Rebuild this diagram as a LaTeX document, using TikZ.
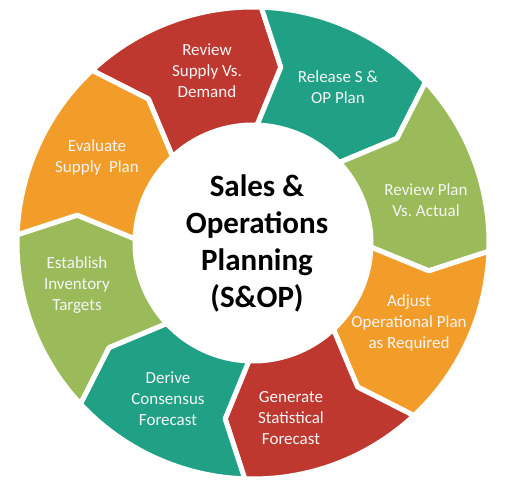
\documentclass[tikz,border=0pt]{standalone}
\usepackage{fontspec}
\setmainfont{Carlito}
\frenchspacing
\definecolor{sopred}{RGB}{190,56,48}
\definecolor{sopteal}{RGB}{32,161,133}
\definecolor{sopgreen}{RGB}{155,187,90}
\definecolor{soporange}{RGB}{242,157,42}

\begin{document}
\begin{tikzpicture}[
    x=1pt, y=1pt,
    segment/.style={fill=#1, draw=white, line width=5pt, line join=round},
    segshadow/.style={fill=black, opacity=0.16, shift={(1.5,-1.5)}},
    steplabel/.style={text=white!96!black, align=center,
        font=\fontsize{17}{21}\selectfont},
    hub/.style={align=center, font=\fontsize{31}{37}\bfseries\selectfont},
    ]
    \useasboundingbox (-253,-246) rectangle (254,243);
    % faint shadow under the ring
    \foreach \k in {0,...,7}{
        \pgfmathsetmacro\a{133-45*\k}
        \pgfmathsetmacro\b{\a-45}
        \pgfmathsetmacro\tipa{\a-7}
        \pgfmathsetmacro\tipb{\b-7}
        \path[segshadow] (\a:233.5) arc[start angle=\a, end angle=\b, radius=233.5]
            -- (\tipb:178) -- (\b:120.5)
            arc[start angle=\b, end angle=\a, radius=120.5]
            -- (\tipa:178) -- cycle;
    }
    % eight arrow segments, clockwise from the top
    \foreach \k/\col in {0/sopred,1/sopteal,2/sopgreen,3/soporange,
                         4/sopred,5/sopteal,6/sopgreen,7/soporange}{
        \pgfmathsetmacro\a{133-45*\k}
        \pgfmathsetmacro\b{\a-45}
        \pgfmathsetmacro\tipa{\a-7}
        \pgfmathsetmacro\tipb{\b-7}
        \path[segment=\col] (\a:236) arc[start angle=\a, end angle=\b, radius=236]
            -- (\tipb:178) -- (\b:118)
            arc[start angle=\b, end angle=\a, radius=118]
            -- (\tipa:178) -- cycle;
    }
    \node[hub] (sop) at (4,0) {Sales \&\\Operations\\Planning\\(S\&OP)};
    \node[steplabel] (review) at (-46,172) {Review\\Supply Vs.\\Demand};
    \node[steplabel] (release) at (85,156) {Release S \&\\OP Plan};
    \node[steplabel] (actual) at (173,43) {Review Plan\\Vs. Actual};
    \node[steplabel] (adjust) at (156,-80) {Adjust\\Operational Plan\\as Required};
    \node[steplabel] (generate) at (38,-175) {Generate\\Statistical\\Forecast};
    \node[steplabel] (derive) at (-85,-156) {Derive\\Consensus\\Forecast};
    \node[steplabel] (establish) at (-176,-42) {Establish\\Inventory\\Targets};
    \node[steplabel] (evaluate) at (-156,86) {Evaluate\\Supply~~Plan};
\end{tikzpicture}
\end{document}
